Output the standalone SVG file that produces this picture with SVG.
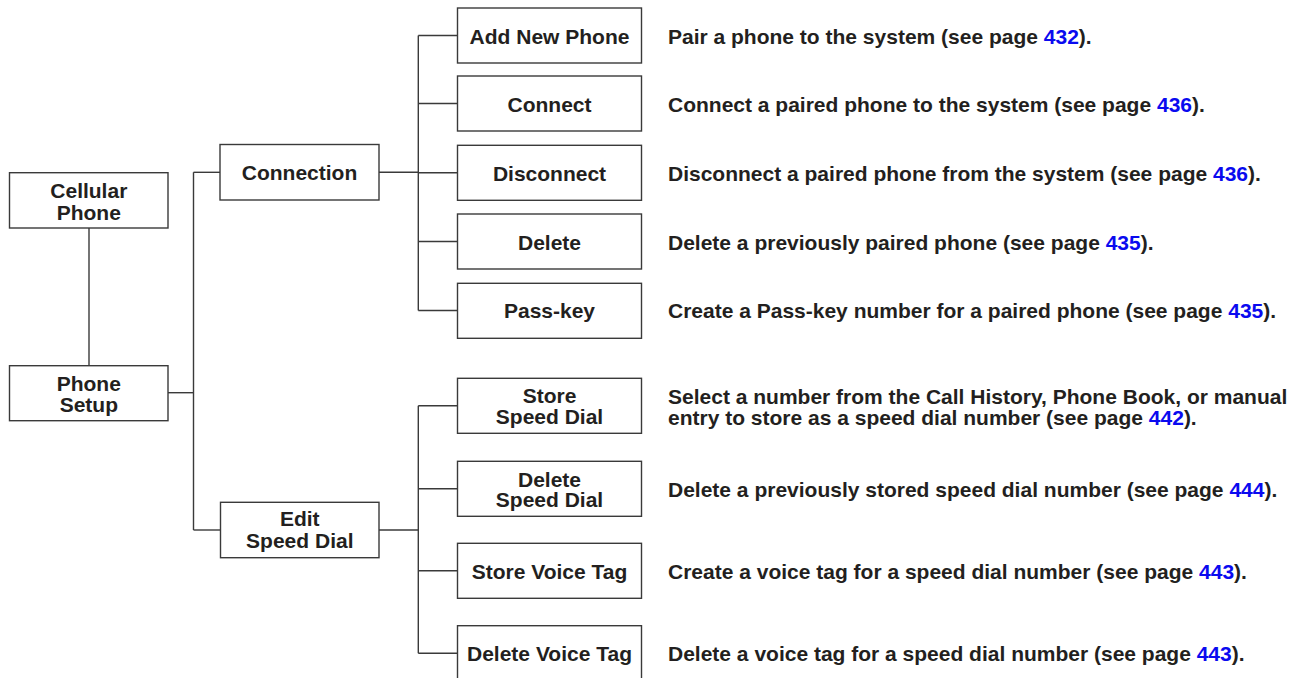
<svg xmlns="http://www.w3.org/2000/svg" width="1296" height="678" viewBox="0 0 1296 678">
  <style>
    .box { fill: #ffffff; stroke: #3a3a3a; stroke-width: 1.4; }
    .lbl { font-family: "Liberation Sans", Arial, sans-serif; font-weight: bold; font-size: 21px; fill: #231f20; text-anchor: middle; }
    .desc { font-family: "Liberation Sans", Arial, sans-serif; font-weight: bold; font-size: 21px; fill: #231f20; }
    .pg { fill: #0a0aef; }
    .conn { fill: none; stroke: #3a3a3a; stroke-width: 1.4; }
  </style>
  <rect width="1296" height="678" fill="#ffffff"/>

  <g id="connectors">
    <path class="conn" d="M89 228 V365.7"/>
    <path class="conn" d="M168 392.7 H193.5"/>
    <path class="conn" d="M193.5 172.3 V530"/>
    <path class="conn" d="M193.5 172.3 H220"/>
    <path class="conn" d="M193.5 530 H220.5"/>
    <path class="conn" d="M379 172.3 H418.3"/>
    <path class="conn" d="M418.3 35.5 V310.5"/>
    <path class="conn" d="M418.3 35.5 H457.5 M418.3 103.5 H457.5 M418.3 172.8 H457.5 M418.3 241.5 H457.5 M418.3 310.5 H457.5"/>
    <path class="conn" d="M379 530 H418.3"/>
    <path class="conn" d="M418.3 405.8 V653.2"/>
    <path class="conn" d="M418.3 405.8 H457.5 M418.3 488.8 H457.5 M418.3 570.8 H457.5 M418.3 653.2 H457.5"/>
  </g>

  <g id="node-cellular-phone">
    <rect class="box" x="9.5" y="172.7" width="158.5" height="55.3"/>
    <text class="lbl" x="88.8" y="197.5">Cellular</text>
    <text class="lbl" x="88.8" y="219.5">Phone</text>
  </g>
  <g id="node-phone-setup">
    <rect class="box" x="9.5" y="365.7" width="158.5" height="55"/>
    <text class="lbl" x="88.8" y="390.5">Phone</text>
    <text class="lbl" x="88.8" y="412">Setup</text>
  </g>
  <g id="node-connection">
    <rect class="box" x="220" y="144.5" width="159" height="55.5"/>
    <text class="lbl" x="299.5" y="180">Connection</text>
  </g>
  <g id="node-edit-speed-dial">
    <rect class="box" x="220.5" y="502.3" width="158.5" height="55.4"/>
    <text class="lbl" x="299.8" y="526">Edit</text>
    <text class="lbl" x="299.8" y="547.5">Speed Dial</text>
  </g>

  <g id="node-add-new-phone">
    <rect class="box" x="457.5" y="8" width="184" height="55"/>
    <text class="lbl" x="549.5" y="43.5">Add New Phone</text>
  </g>
  <g id="node-connect">
    <rect class="box" x="457.5" y="76" width="184" height="55"/>
    <text class="lbl" x="549.5" y="111.5">Connect</text>
  </g>
  <g id="node-disconnect">
    <rect class="box" x="457.5" y="145.3" width="184" height="55"/>
    <text class="lbl" x="549.5" y="180.5">Disconnect</text>
  </g>
  <g id="node-delete">
    <rect class="box" x="457.5" y="214" width="184" height="55"/>
    <text class="lbl" x="549.5" y="249.5">Delete</text>
  </g>
  <g id="node-pass-key">
    <rect class="box" x="457.5" y="283.3" width="184" height="55"/>
    <text class="lbl" x="549.5" y="318">Pass-key</text>
  </g>
  <g id="node-store-speed-dial">
    <rect class="box" x="457.5" y="378.3" width="184" height="55"/>
    <text class="lbl" x="549.5" y="403.3">Store</text>
    <text class="lbl" x="549.5" y="424.3">Speed Dial</text>
  </g>
  <g id="node-delete-speed-dial">
    <rect class="box" x="457.5" y="461.3" width="184" height="55"/>
    <text class="lbl" x="549.5" y="486.7">Delete</text>
    <text class="lbl" x="549.5" y="507.3">Speed Dial</text>
  </g>
  <g id="node-store-voice-tag">
    <rect class="box" x="457.5" y="543.3" width="184" height="55"/>
    <text class="lbl" x="549.5" y="578.5">Store Voice Tag</text>
  </g>
  <g id="node-delete-voice-tag">
    <rect class="box" x="457.5" y="625.7" width="184" height="55"/>
    <text class="lbl" x="549.5" y="661">Delete Voice Tag</text>
  </g>

  <g id="descriptions">
    <text class="desc" x="668" y="44">Pair a phone to the system (see page <tspan class="pg">432</tspan>).</text>
    <text class="desc" x="668" y="111.5">Connect a paired phone to the system (see page <tspan class="pg">436</tspan>).</text>
    <text class="desc" x="668" y="180.5">Disconnect a paired phone from the system (see page <tspan class="pg">436</tspan>).</text>
    <text class="desc" x="668" y="249.5">Delete a previously paired phone (see page <tspan class="pg">435</tspan>).</text>
    <text class="desc" x="668" y="317.5">Create a Pass-key number for a paired phone (see page <tspan class="pg">435</tspan>).</text>
    <text class="desc" x="668" y="404">Select a number from the Call History, Phone Book, or manual</text>
    <text class="desc" x="668" y="425">entry to store as a speed dial number (see page <tspan class="pg">442</tspan>).</text>
    <text class="desc" x="668" y="496.7">Delete a previously stored speed dial number (see page <tspan class="pg">444</tspan>).</text>
    <text class="desc" x="668" y="579.3">Create a voice tag for a speed dial number (see page <tspan class="pg">443</tspan>).</text>
    <text class="desc" x="668" y="661">Delete a voice tag for a speed dial number (see page <tspan class="pg">443</tspan>).</text>
  </g>
</svg>
